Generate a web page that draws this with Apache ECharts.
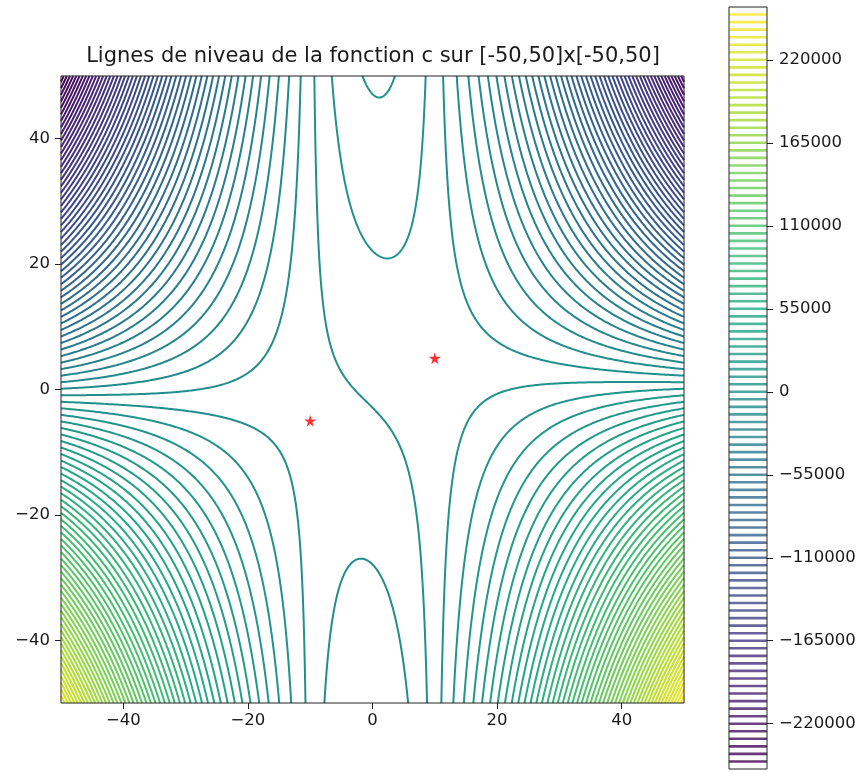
<!DOCTYPE html>
<html>
<head>
<meta charset="utf-8">
<script src="https://cdn.jsdelivr.net/npm/echarts@6/dist/echarts.min.js"></script>
<style>
  html, body { margin: 0; background: #fff; }
  #chart { width: 863px; height: 771px; }
</style>
</head>
<body>
<div id="chart"></div>
<script>
// c(x, y) = a*x^2*y + b*x + d*y + e   (critical points at (10,5) and (-10,-5))
const COEF = [-2, 200, 200, 580];
const DOMAIN = [-50, 50];
// contour levels: first, last, step
const LEVELS = [-245000, 250000, 5000];
const CRIT_X = [-10, 10];
const CRIT_Y = [-5, 5];
const AXIS_TICKS = [-40, -20, 0, 20, 40];
const CBAR_TICKS = [-220000, -165000, -110000, -55000, 0, 55000, 110000, 165000, 220000];
const VIRIDIS = ["#440154", "#482475", "#414487", "#355f8d", "#2a788e", "#21918c",
  "#22a884", "#44bf70", "#7ad151", "#bddf26", "#fde725"];

const FONT = "DejaVu Sans";
const TEXT = "#1a1a1a";

function c(x, y) {
  return COEF[0] * x * x * y + COEF[1] * x + COEF[2] * y + COEF[3];
}

function hex(h) {
  return [1, 3, 5].map(k => parseInt(h.slice(k, k + 2), 16));
}

function viridis(t) {
  t = Math.min(1, Math.max(0, t));
  const p = t * (VIRIDIS.length - 1);
  const i = Math.min(VIRIDIS.length - 2, Math.floor(p));
  const f = p - i;
  const a = hex(VIRIDIS[i]), b = hex(VIRIDIS[i + 1]);
  const rgb = a.map((v, k) => Math.round(v + (b[k] - v) * f));
  return `rgb(${rgb.join(",")})`;
}

// sample grid
const N = 401;
const xs = [];
for (let i = 0; i < N; i++) xs.push(DOMAIN[0] + (DOMAIN[1] - DOMAIN[0]) * i / (N - 1));
const z = [];
for (let j = 0; j < N; j++) {
  const row = new Float64Array(N);
  for (let i = 0; i < N; i++) row[i] = c(xs[i], xs[j]);
  z.push(row);
}

// marching squares for one level, segments chained into polylines
function contour(L) {
  const adj = new Map();
  const link = (a, b) => {
    if (!adj.has(a)) adj.set(a, []);
    if (!adj.has(b)) adj.set(b, []);
    adj.get(a).push(b);
    adj.get(b).push(a);
  };
  for (let j = 0; j < N - 1; j++) {
    const r0 = z[j], r1 = z[j + 1];
    for (let i = 0; i < N - 1; i++) {
      const bl = r0[i] > L, br = r0[i + 1] > L, tr = r1[i + 1] > L, tl = r1[i] > L;
      if (bl === br && br === tr && tr === tl) continue;
      const eB = (j * N + i) * 2, eR = (j * N + i + 1) * 2 + 1;
      const eT = ((j + 1) * N + i) * 2, eL = (j * N + i) * 2 + 1;
      const hits = [];
      if (bl !== br) hits.push(eB);
      if (br !== tr) hits.push(eR);
      if (tr !== tl) hits.push(eT);
      if (tl !== bl) hits.push(eL);
      if (hits.length === 2) {
        link(hits[0], hits[1]);
      } else {
        const mid = (r0[i] + r0[i + 1] + r1[i + 1] + r1[i]) / 4 > L;
        if (bl !== mid) { link(eL, eB); link(eR, eT); }
        else { link(eB, eR); link(eT, eL); }
      }
    }
  }
  const point = id => {
    const k = id >> 1, j = Math.floor(k / N), i = k % N;
    if (id % 2 === 0) {
      const t = (L - z[j][i]) / (z[j][i + 1] - z[j][i]);
      return [xs[i] + t * (xs[i + 1] - xs[i]), xs[j]];
    }
    const t = (L - z[j][i]) / (z[j + 1][i] - z[j][i]);
    return [xs[i], xs[j] + t * (xs[j + 1] - xs[j])];
  };
  const seen = new Set();
  const walk = start => {
    const ids = [start];
    seen.add(start);
    let cur = start;
    for (;;) {
      const nb = adj.get(cur);
      let next = -1;
      for (const n of nb) if (!seen.has(n)) { next = n; break; }
      if (next < 0) {
        if (ids.length > 2 && nb.includes(start)) ids.push(start);
        break;
      }
      seen.add(next);
      ids.push(next);
      cur = next;
    }
    return ids.map(point);
  };
  const out = [];
  for (const [k, nb] of adj) if (nb.length === 1 && !seen.has(k)) out.push(walk(k));
  for (const [k] of adj) if (!seen.has(k)) out.push(walk(k));
  return out;
}

const levels = [];
for (let v = LEVELS[0]; v <= LEVELS[1]; v += LEVELS[2]) levels.push(v);
const colorOf = v => viridis((v - LEVELS[0]) / (LEVELS[1] - LEVELS[0]));

const contourData = [];
const barData = [];
levels.forEach(L => {
  const color = colorOf(L);
  contour(L).forEach(coords => {
    if (coords.length > 1) contourData.push({ coords, lineStyle: { color } });
  });
  barData.push({ coords: [[0, L], [1, L]], lineStyle: { color } });
});

const minus = v => String(v).replace("-", "\u2212");
const labelStyle = { fontFamily: FONT, fontSize: 16.5, color: TEXT };
const STAR = "path://M50,0 L61,35 L98,35 L68,57 L79,91 L50,70 L21,91 L32,57 L2,35 L39,35 Z";
const noLine = { show: false, onZero: false };

const chart = echarts.init(document.getElementById("chart"));
chart.setOption({
  animation: false,
  graphic: [{
    type: "text", x: 373, y: 57,
    style: {
      text: "Lignes de niveau de la fonction c sur [-50,50]x[-50,50]",
      fontFamily: FONT, fontSize: 21, fill: TEXT,
      textAlign: "center", textVerticalAlign: "middle"
    }
  }],
  grid: [
    { left: 61, top: 76, width: 623, height: 627, show: true, borderColor: "#222", borderWidth: 1, backgroundColor: "transparent", z: 10 },
    { left: 729, top: 7, width: 38, height: 762, show: true, borderColor: "#222", borderWidth: 1, backgroundColor: "transparent", z: 10 }
  ],
  xAxis: [
    {
      gridIndex: 0, type: "value", min: DOMAIN[0], max: DOMAIN[1], position: "bottom",
      axisLine: noLine, splitLine: { show: false },
      axisTick: { show: true, length: 6, customValues: AXIS_TICKS, lineStyle: { color: "#222" } },
      axisLabel: { customValues: AXIS_TICKS, formatter: minus, margin: 9, ...labelStyle }
    },
    { gridIndex: 1, type: "value", min: 0, max: 1, show: false }
  ],
  yAxis: [
    {
      gridIndex: 0, type: "value", min: DOMAIN[0], max: DOMAIN[1], position: "left",
      axisLine: noLine, splitLine: { show: false },
      axisTick: { show: true, length: 6, customValues: AXIS_TICKS, lineStyle: { color: "#222" } },
      axisLabel: { customValues: AXIS_TICKS, formatter: minus, margin: 11, ...labelStyle }
    },
    {
      gridIndex: 1, type: "value", position: "right",
      min: LEVELS[0] - LEVELS[2], max: LEVELS[1] + LEVELS[2],
      axisLine: noLine, splitLine: { show: false },
      axisTick: { show: true, length: 6, customValues: CBAR_TICKS, lineStyle: { color: "#222" } },
      axisLabel: { customValues: CBAR_TICKS, formatter: minus, margin: 12, ...labelStyle }
    }
  ],
  series: [
    {
      type: "lines", coordinateSystem: "cartesian2d", xAxisIndex: 0, yAxisIndex: 0,
      polyline: true, silent: true, data: contourData,
      lineStyle: { width: 2, opacity: 1 }
    },
    {
      type: "lines", coordinateSystem: "cartesian2d", xAxisIndex: 1, yAxisIndex: 1,
      polyline: true, silent: true, data: barData,
      lineStyle: { width: 2.6, opacity: 0.8 }
    },
    {
      type: "scatter", xAxisIndex: 0, yAxisIndex: 0, silent: true, z: 5,
      symbol: STAR, symbolSize: 12, itemStyle: { color: "#ff0000" },
      data: CRIT_X.map((x, k) => [x, CRIT_Y[k]])
    }
  ]
});
</script>
</body>
</html>
